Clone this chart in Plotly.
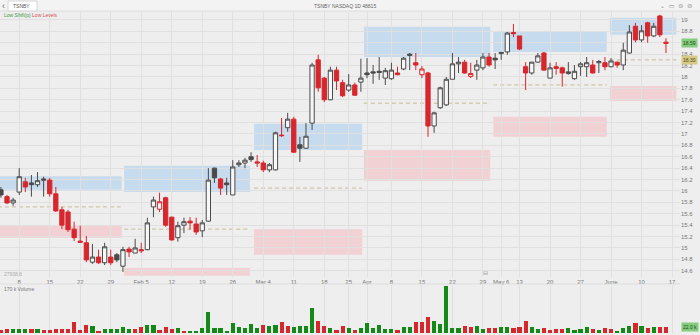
import plotly.graph_objects as go

# ---------------- data ----------------
opens = [16.02, 15.90, 15.79, 15.98, 16.16, 16.14, 16.11, 16.21, 16.19, 15.95,
         15.67, 15.63, 15.33, 15.12, 15.09, 14.75, 14.84, 14.74, 14.84, 14.88,
         14.68, 14.98, 14.91, 14.97, 14.97, 15.72, 15.68, 15.88, 15.54, 15.18,
         15.40, 15.47, 15.42, 15.30, 15.47, 16.40, 16.21, 16.14, 15.93, 16.46,
         16.49, 16.60, 16.51, 16.49, 16.37, 16.37, 16.98, 17.11, 17.26, 16.81,
         16.75, 17.19, 18.30, 17.98, 17.60, 18.12, 17.90, 17.77, 17.86, 17.91,
         18.07, 18.09, 18.10, 17.98, 17.97, 18.07, 18.14, 18.40, 18.25, 18.04,
         18.07, 17.14, 17.46, 17.51, 17.96, 18.23, 18.26, 18.01, 18.12, 18.16,
         18.35, 18.33, 18.41, 18.44, 18.78, 18.72, 18.18, 18.07, 18.26, 18.42,
         17.98, 18.18, 18.16, 18.06, 17.97, 18.18, 18.18, 18.21, 18.25, 18.25,
         18.18, 18.26, 18.21, 18.42, 18.89, 18.65, 18.95, 18.72, 19.07, 18.61]
highs = [16.07, 15.93, 15.88, 16.40, 16.23, 16.28, 16.33, 16.25, 16.23, 16.07,
         15.72, 15.67, 15.46, 15.39, 15.21, 15.07, 14.97, 15.09, 14.97, 14.91,
         15.02, 15.02, 15.16, 15.09, 15.53, 15.90, 15.97, 15.90, 15.55, 15.46,
         15.53, 15.54, 15.53, 15.49, 16.40, 16.41, 16.23, 16.23, 16.54, 16.54,
         16.58, 16.68, 16.63, 16.53, 16.49, 17.04, 17.28, 17.37, 17.30, 16.95,
         17.19, 18.25, 18.39, 18.00, 18.18, 18.18, 17.95, 18.05, 17.90, 18.32,
         18.33, 18.21, 18.35, 18.16, 18.25, 18.18, 18.35, 18.42, 18.42, 18.19,
         18.09, 17.39, 17.83, 18.00, 18.42, 18.35, 18.30, 18.25, 18.30, 18.42,
         18.42, 18.42, 18.44, 18.79, 18.93, 18.72, 18.26, 18.26, 18.42, 18.44,
         18.25, 18.26, 18.18, 18.26, 18.21, 18.26, 18.35, 18.30, 18.30, 18.35,
         18.33, 18.27, 18.60, 18.91, 18.95, 18.91, 18.97, 18.95, 19.09, 18.68]
lows = [15.88, 15.77, 15.74, 15.93, 15.98, 15.90, 16.07, 15.90, 15.90, 15.63,
        15.33, 15.28, 15.12, 15.09, 14.75, 14.72, 14.72, 14.70, 14.70, 14.75,
        14.58, 14.84, 14.91, 14.91, 14.96, 15.54, 15.63, 15.37, 15.13, 15.11,
        15.26, 15.32, 15.23, 15.19, 15.46, 16.14, 15.93, 15.93, 15.93, 16.42,
        16.40, 16.51, 16.42, 16.33, 16.33, 16.36, 16.95, 17.04, 16.67, 16.51,
        16.74, 17.07, 17.74, 17.56, 17.59, 17.77, 17.65, 17.74, 17.67, 17.74,
        17.98, 17.88, 17.95, 17.86, 17.95, 18.03, 18.12, 18.12, 18.12, 17.98,
        16.95, 17.02, 17.44, 17.49, 17.96, 18.07, 18.06, 17.98, 17.95, 18.12,
        18.18, 18.14, 18.30, 18.39, 18.70, 18.47, 17.77, 18.04, 18.25, 18.12,
        17.98, 18.04, 17.83, 18.04, 17.95, 18.02, 18.00, 18.06, 18.07, 18.12,
        18.17, 18.16, 18.12, 18.41, 18.61, 18.61, 18.60, 18.70, 18.70, 18.42]
closes = [15.93, 15.79, 15.84, 16.25, 16.07, 16.11, 16.18, 16.19, 15.95, 15.65,
          15.40, 15.32, 15.18, 15.10, 14.79, 14.84, 14.74, 15.02, 14.74, 14.79,
          14.97, 14.93, 15.00, 14.95, 15.44, 15.84, 15.81, 15.40, 15.14, 15.39,
          15.46, 15.44, 15.28, 15.44, 16.19, 16.23, 16.05, 16.11, 16.42, 16.49,
          16.54, 16.55, 16.49, 16.37, 16.46, 17.02, 16.97, 17.26, 16.68, 16.75,
          16.96, 18.21, 17.81, 17.60, 18.12, 17.93, 17.67, 17.86, 17.68, 17.98,
          18.04, 18.07, 18.08, 18.11, 18.12, 18.04, 18.33, 18.38, 18.21, 18.14,
          17.14, 17.37, 17.81, 17.96, 18.23, 18.26, 18.07, 18.06, 18.21, 18.35,
          18.21, 18.30, 18.43, 18.77, 18.76, 18.49, 18.07, 18.26, 18.37, 18.12,
          18.16, 18.15, 18.07, 18.09, 18.10, 18.23, 18.25, 18.07, 18.27, 18.18,
          18.28, 18.21, 18.47, 18.79, 18.65, 18.81, 18.72, 18.89, 18.74, 18.59]
volumes_k = [10.5, 13, 14, 14, 15, 13, 15, 12, 12, 13,
             13, 14, 37, 10.5, 28, 24.5, 7, 13, 14, 14,
             22, 14, 13, 20, 28, 28, 10.5, 22, 13, 17.5,
             8, 8, 8, 17.5, 71, 17.5, 17.5, 7, 34, 22,
             17.5, 30, 16.5, 28, 24.5, 27, 37, 25.5, 22, 25.5,
             25.5, 86, 42, 24.5, 18.5, 10.5, 25.5, 16.5, 10.5, 16.5,
             34, 16.5, 28, 13, 13, 10.5, 22, 22, 37, 37,
             54, 40, 30, 162, 18.5, 18.5, 24.5, 20, 24.5, 14,
             17.5, 17.5, 21, 21, 18.5, 21, 42, 20, 14, 16.5,
             10.5, 15, 15, 16.5, 10.5, 14, 20, 14, 10.5, 16.5,
             13, 8, 16.5, 24.5, 34, 24.5, 16.5, 21, 21, 22]
volume_up = [0, 0, 1, 1, 1, 0, 1, 0, 0, 0,
             0, 0, 0, 0, 0, 1, 0, 1, 1, 1,
             1, 1, 0, 0, 1, 1, 0, 0, 0, 1,
             0, 1, 1, 1, 1, 1, 1, 1, 1, 1,
             1, 1, 1, 0, 1, 1, 0, 0, 1, 1,
             1, 1, 0, 0, 1, 0, 0, 1, 0, 1,
             1, 1, 1, 1, 1, 0, 1, 1, 0, 0,
             0, 1, 1, 1, 1, 1, 0, 0, 1, 1,
             0, 0, 1, 1, 0, 0, 0, 1, 1, 0,
             0, 0, 0, 1, 1, 1, 1, 0, 1, 0,
             0, 1, 1, 1, 0, 1, 0, 1, 0, 0]

tick_index = [3, 8, 13, 18, 23, 28, 33, 38, 43, 48, 53, 57,
              60, 64, 69, 74, 79, 82, 85, 90, 95, 100, 105, 110]
tick_labels = ["8", "15", "22", "29", "Feb 5", "12", "19", "26", "Mar 4", "11", "18", "25",
               "Apr", "8", "15", "22", "29", "May 6", "13", "20", "27", "June", "10", "17"]

price_ticks = [14.6, 14.8, 15.0, 15.2, 15.4, 15.6, 15.8, 16.0, 16.2, 16.4, 16.6, 16.8,
               17.0, 17.2, 17.4, 17.6, 17.8, 18.0, 18.2, 18.4, 18.6, 18.8, 19.0]

# period zones (start / end in bar units) with supply, pivot and demand levels
zone_start = [-0.5, 20.2, 41.5, 59.5, 80.7, 99.8]
zone_end = [19.8, 40.8, 59.2, 80.2, 99.3, 110.7]
supply_lo = [16.02, 15.98, 16.72, 18.35, 18.44, 18.74]
supply_hi = [16.26, 16.44, 17.18, 18.88, 18.79, 19.04]
pivot = [15.72, 15.33, 16.05, 17.54, 17.86, 18.30]
demand_lo = [15.18, 14.51, 14.88, 16.18, 16.95, 17.58]
demand_hi = [15.40, 14.65, 15.33, 16.72, 17.30, 17.84]

# ---------------- styling ----------------
W, H = 700, 335
BG = "#eeeeee"
GRID = "#e0e0e0"
GRAY = "#4a4a4a"
RED = "#d8262d"
GREEN = "#138a17"
HOLLOW = "#f7f7f7"
FONT = "Liberation Sans"

x = list(range(len(closes)))
prev_close = [closes[0]] + closes[:-1]
up_idx = [i for i in x if closes[i] >= prev_close[i]]
dn_idx = [i for i in x if closes[i] < prev_close[i]]


def candles(idx, color):
    return go.Candlestick(
        x=[x[i] for i in idx],
        open=[opens[i] for i in idx],
        high=[highs[i] for i in idx],
        low=[lows[i] for i in idx],
        close=[closes[i] for i in idx],
        increasing=dict(line=dict(color=color, width=1), fillcolor=HOLLOW),
        decreasing=dict(line=dict(color=color, width=1), fillcolor=color),
        whiskerwidth=0,
        showlegend=False,
        hoverinfo="skip",
        xaxis="x", yaxis="y",
    )


fig = go.Figure()
fig.add_trace(candles(up_idx, GRAY))
fig.add_trace(candles(dn_idx, RED))
fig.add_trace(go.Bar(
    x=x, y=volumes_k,
    marker=dict(color=[GREEN if u else RED for u in volume_up], line=dict(width=0)),
    width=0.68, showlegend=False, hoverinfo="skip",
    xaxis="x2", yaxis="y2",
))


# pixel -> paper helpers for layout
def py(p):
    return 1 - p / H


def px(p):
    return p / W


main_dom = [py(277), py(12)]
vol_dom = [py(333), py(285)]
x_right = 680

shapes = []
for s, e, a, b, pv, c, d in zip(zone_start, zone_end, supply_lo, supply_hi, pivot, demand_lo, demand_hi):
    shapes.append(dict(type="rect", xref="x", yref="y", x0=s, x1=e, y0=a, y1=b,
                       fillcolor="rgba(150,195,240,0.45)", line=dict(width=0), layer="below"))
    shapes.append(dict(type="rect", xref="x", yref="y", x0=s, x1=e, y0=c, y1=d,
                       fillcolor="rgba(245,180,188,0.5)", line=dict(width=0), layer="below"))
    shapes.append(dict(type="line", xref="x", yref="y", x0=s, x1=e, y0=pv, y1=pv,
                       line=dict(color="#c6bd92", width=1, dash="4px,3px"), layer="below"))

# top toolbar
shapes.append(dict(type="rect", xref="paper", yref="paper", x0=0, x1=1, y0=py(11), y1=1,
                   fillcolor="#f3f3f3", line=dict(width=0), layer="below"))
shapes.append(dict(type="line", xref="paper", yref="paper", x0=0, x1=1, y0=py(11), y1=py(11),
                   line=dict(color="#dcdcdc", width=1)))
# symbol box
shapes.append(dict(type="rect", xref="paper", yref="paper", x0=px(8), x1=px(37), y0=py(11), y1=py(1),
                   fillcolor="#ffffff", line=dict(color="#d6d6d6", width=1)))
# pane separator
shapes.append(dict(type="line", xref="paper", yref="paper", x0=0, x1=px(x_right), y0=py(284), y1=py(284),
                   line=dict(color="#dddddd", width=1)))

# price labels: the last-price badge sits where its tick label would be
price_text = []
for v in price_ticks:
    if abs(v - closes[-1]) < 0.1:
        price_text.append("")
    else:
        price_text.append(f"{v:.1f}".rstrip("0").rstrip("."))

annotations = [
    dict(x=px(3), y=py(6), xref="paper", yref="paper", text="‹", showarrow=False,
         font=dict(family=FONT, size=9, color="#666666"), xanchor="center", yanchor="middle"),
    dict(x=px(11), y=py(6), xref="paper", yref="paper", text="TSNBY", showarrow=False,
         font=dict(family=FONT, size=5, color="#555555"), xanchor="left", yanchor="middle"),
    dict(x=px(345), y=py(6), xref="paper", yref="paper", text="TSNBY NASDAQ 1D 48815", showarrow=False,
         font=dict(family=FONT, size=5, color="#666666"), xanchor="center", yanchor="middle"),
    dict(x=px(2), y=py(15), xref="paper", yref="paper",
         text="<span style='color:#3f9a3f'>Low Shift(p)</span> <span style='color:#d8505a'>Low Levels</span>",
         showarrow=False, font=dict(family=FONT, size=5), xanchor="left", yanchor="middle"),
    dict(x=px(676), y=py(5), xref="paper", yref="paper", text="⌄  ▭  ⊜  ⊜", showarrow=False,
         font=dict(family="DejaVu Sans", size=6, color="#888888"), xanchor="center", yanchor="middle"),
    dict(x=px(2), y=py(274), xref="paper", yref="paper", text="27938.6", showarrow=False,
         font=dict(family=FONT, size=5, color="#aaaaaa"), xanchor="left", yanchor="middle"),
    dict(x=px(2), y=py(289), xref="paper", yref="paper", text="170 k Volume", showarrow=False,
         font=dict(family=FONT, size=5, color="#777777"), xanchor="left", yanchor="middle"),
    dict(x=79.5, y=py(272), xref="x", yref="paper", text="⊟", showarrow=False,
         font=dict(family="DejaVu Sans", size=6, color="#999999"), xanchor="center", yanchor="middle"),
    # price badges on the right scale
    dict(x=px(x_right + 9), y=closes[-1], xref="paper", yref="y", text=f"{closes[-1]:.2f}",
         showarrow=False, bgcolor="#86cc7f", font=dict(family=FONT, size=5, color="#1d4d1d"),
         borderpad=1, xanchor="center", yanchor="middle"),
    dict(x=px(x_right + 9), y=pivot[-1], xref="paper", yref="y", text=f"{pivot[-1]:.2f}",
         showarrow=False, bgcolor="#d6ca85", font=dict(family=FONT, size=5, color="#4d451d"),
         borderpad=1, xanchor="center", yanchor="middle"),
    dict(x=px(x_right + 10), y=volumes_k[-1], xref="paper", yref="y2", text=f"{volumes_k[-1]:.1f} k",
         showarrow=False, bgcolor="#86cc7f", font=dict(family=FONT, size=5, color="#1d4d1d"),
         borderpad=1, xanchor="center", yanchor="middle"),
]

fig.update_layout(
    width=W, height=H,
    margin=dict(l=0, r=0, t=0, b=0),
    paper_bgcolor=BG, plot_bgcolor=BG,
    showlegend=False,
    boxgap=0.3, boxgroupgap=0,
    bargap=0,
    font=dict(family=FONT, size=6, color="#777777"),
    shapes=shapes,
    annotations=annotations,
    xaxis=dict(
        domain=[0, px(x_right)], range=[-0.15, 111.3], anchor="y",
        tickmode="array", tickvals=tick_index, ticktext=tick_labels,
        showgrid=True, gridcolor=GRID, gridwidth=1, zeroline=False, showline=False,
        ticks="", tickfont=dict(family=FONT, size=6, color="#777777"),
        rangeslider=dict(visible=False), fixedrange=True,
    ),
    yaxis=dict(
        domain=main_dom, range=[14.49, 19.14], side="right", anchor="x",
        tickmode="array", tickvals=price_ticks, ticktext=price_text,
        showgrid=True, gridcolor=GRID, gridwidth=1,
        zeroline=False, showline=False, ticks="",
        tickfont=dict(family=FONT, size=6, color="#777777"),
    ),
    xaxis2=dict(
        domain=[0, px(x_right)], matches="x", anchor="y2",
        tickmode="array", tickvals=tick_index, showticklabels=False,
        showgrid=True, gridcolor=GRID, gridwidth=1, zeroline=False, showline=False, ticks="",
    ),
    yaxis2=dict(
        domain=vol_dom, range=[0, 166], side="right", anchor="x2",
        showgrid=False, zeroline=False, showticklabels=False, showline=False,
    ),
)

fig.write_html("out.html")
